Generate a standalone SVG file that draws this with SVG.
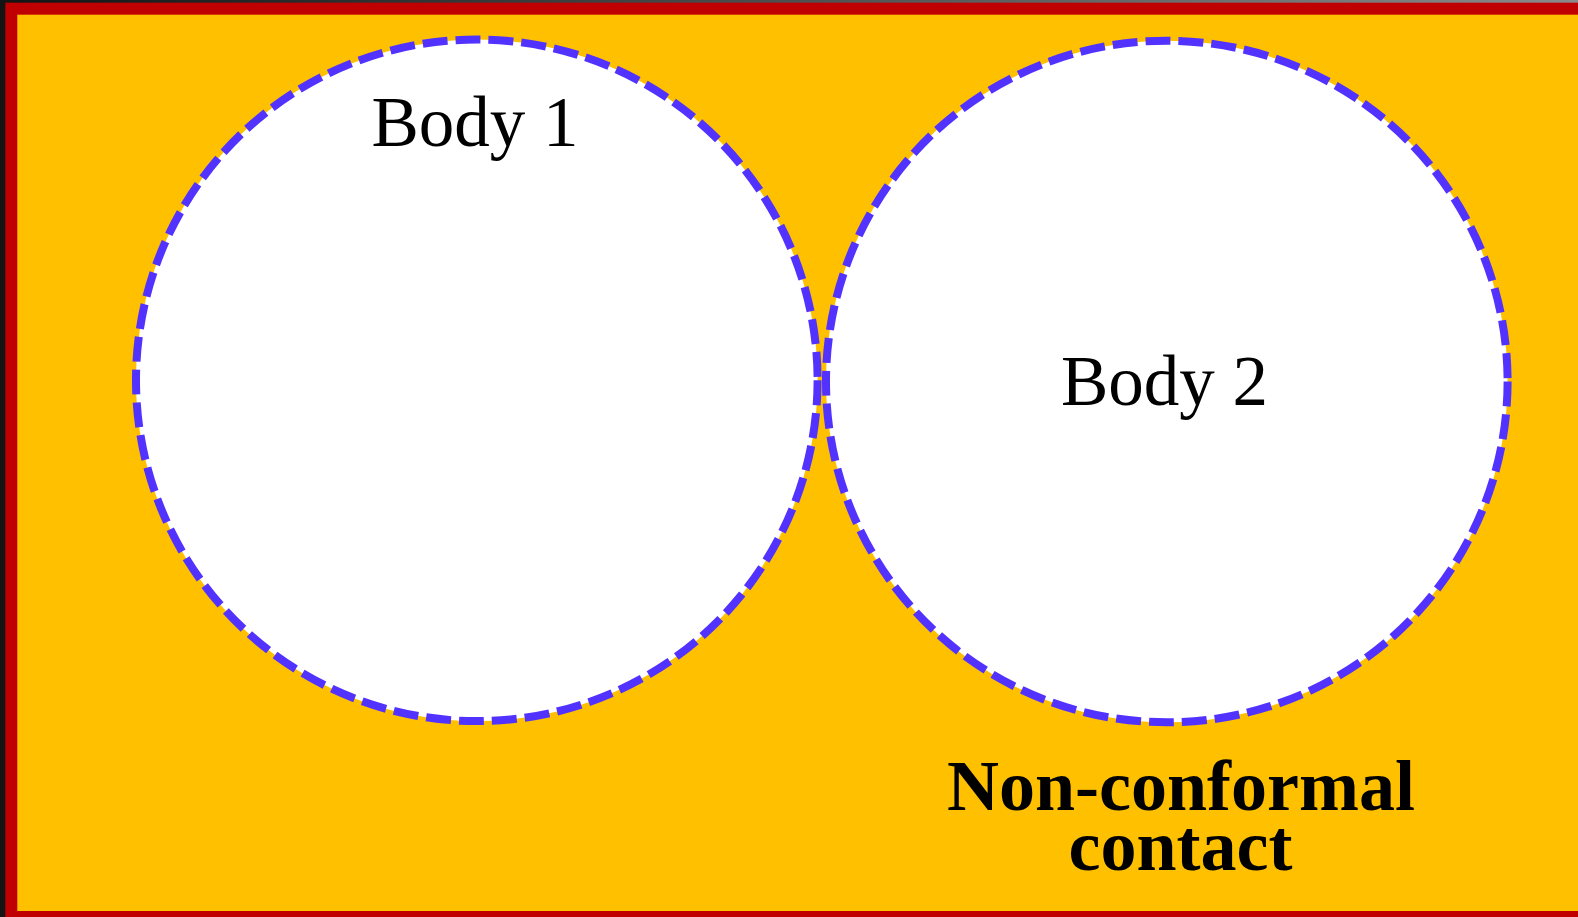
<svg xmlns="http://www.w3.org/2000/svg" width="1578" height="917" viewBox="0 0 1578 917">
  <defs>
    <linearGradient id="topstrip" x1="0" y1="0" x2="1" y2="0">
      <stop offset="0" stop-color="#141414"/>
      <stop offset="1" stop-color="#8a8a8a"/>
    </linearGradient>
    <style>
      .body { fill: #FFFFFF; stroke: #5232FF; stroke-width: 8; stroke-dasharray: 25 8; }
      .lbl { font-family: "Liberation Serif", "Times New Roman", serif; font-size: 71px; fill: #000000; text-anchor: middle; }
      .note { font-family: "Liberation Serif", "Times New Roman", serif; font-size: 72px; font-weight: bold; fill: #000000; text-anchor: middle; }
    </style>
  </defs>
  <rect x="0" y="0" width="1578" height="917" fill="#141414"/>
  <rect x="0" y="0" width="1578" height="3" fill="url(#topstrip)"/>
  <rect id="frame" x="11.3" y="8.7" width="1600" height="908.3" fill="#FFC000" stroke="#C00000" stroke-width="12"/>
  <g id="connectors"></g>
  <g id="body1">
    <circle class="body" cx="476.8" cy="380.3" r="340.8"/>
    <text class="lbl" x="475" y="146">Body 1</text>
  </g>
  <g id="body2">
    <circle class="body" cx="1166.8" cy="381.5" r="340.8"/>
    <text class="lbl" x="1164.5" y="405">Body 2</text>
  </g>
  <g id="caption">
    <text class="note" x="1181" y="810">Non-conformal</text>
    <text class="note" x="1180.5" y="870">contact</text>
  </g>
</svg>
